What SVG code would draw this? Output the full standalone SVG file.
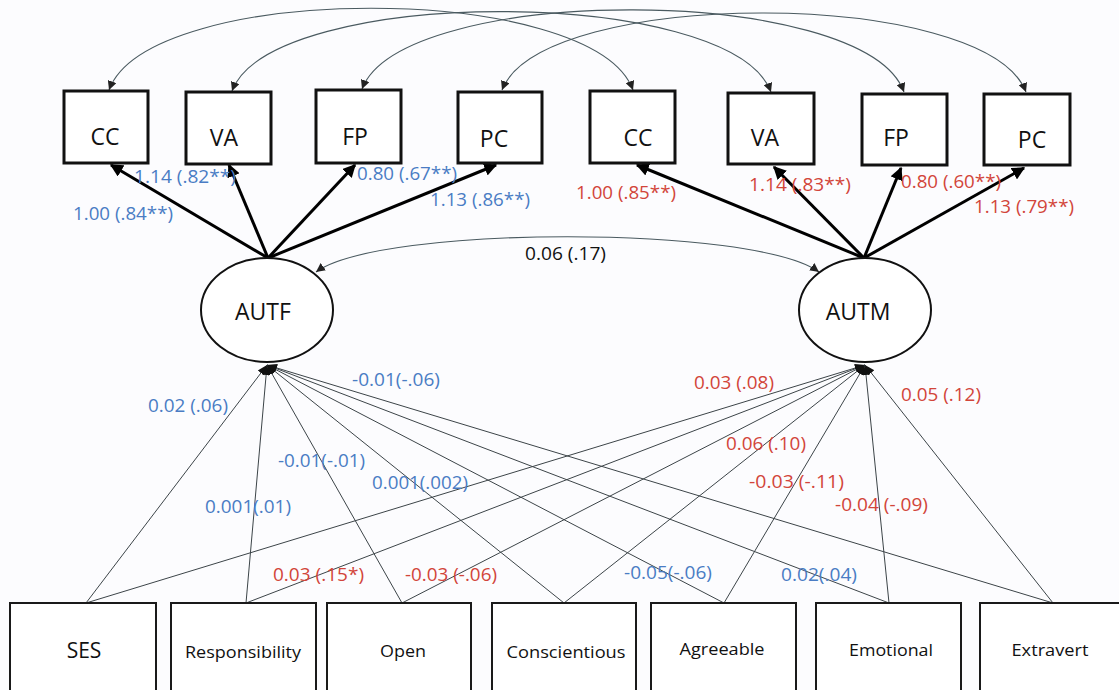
<svg xmlns="http://www.w3.org/2000/svg" width="1119" height="690" viewBox="0 0 1119 690">
<style>
.bg{fill:#fcfcfe}
.tb{fill:#fff;stroke:#111;stroke-width:3}
.bb{fill:#fff;stroke:#1a1a1a;stroke-width:2}
.el{fill:#fff;stroke:#111;stroke-width:2}
.cov{fill:none;stroke:#4a5a60;stroke-width:1.1}
.load{fill:none;stroke:#000;stroke-width:3}
.reg{fill:none;stroke:#3c4448;stroke-width:1}
text{font-family:"Open Sans","Liberation Sans",sans-serif}
.nl{font-size:23px;fill:#111;text-anchor:middle}
.bl{font-size:17px;fill:#111;text-anchor:middle}
.lab{font-size:18px}
.blue{fill:#4a7cc4}
.red{fill:#d2453a}
.blk{fill:#111}
</style>
<defs>
<marker id="ah" viewBox="0 0 10 10" refX="10" refY="5" markerWidth="9" markerHeight="9" markerUnits="userSpaceOnUse" orient="auto-start-reverse"><path d="M0,0 L10,5 L0,10 z" fill="#222"/></marker>
<marker id="ahL" viewBox="0 0 10 10" refX="9" refY="5" markerWidth="13" markerHeight="13" markerUnits="userSpaceOnUse" orient="auto"><path d="M0,0 L10,5 L0,10 z" fill="#000"/></marker>
<marker id="ahR" viewBox="0 0 10 10" refX="10" refY="5" markerWidth="10" markerHeight="10" markerUnits="userSpaceOnUse" orient="auto"><path d="M0,1 L10,5 L0,9 z" fill="#111"/></marker>
</defs>
<rect class="bg" x="0" y="0" width="1119" height="690"/>
<g id="connectors">
<path class="cov" d="M109,90 C149,-19 593,-19 633,90" marker-start="url(#ah)" marker-end="url(#ah)"/>
<path class="cov" d="M232,91 C272,-15 731,-15 771,92" marker-start="url(#ah)" marker-end="url(#ah)"/>
<path class="cov" d="M362,89 C402,-17 864,-17 904,92" marker-start="url(#ah)" marker-end="url(#ah)"/>
<path class="cov" d="M502,90 C542,-13 986,-13 1026,92" marker-start="url(#ah)" marker-end="url(#ah)"/>
<path class="cov" d="M316,272 C380,225 755,225 819,272" marker-start="url(#ah)" marker-end="url(#ah)"/>
<line class="load" x1="268" y1="258" x2="111" y2="165" marker-end="url(#ahL)"/>
<line class="load" x1="268" y1="258" x2="229" y2="165" marker-end="url(#ahL)"/>
<line class="load" x1="268" y1="258" x2="355" y2="165" marker-end="url(#ahL)"/>
<line class="load" x1="268" y1="258" x2="496" y2="165" marker-end="url(#ahL)"/>
<line class="load" x1="864" y1="258" x2="637" y2="165" marker-end="url(#ahL)"/>
<line class="load" x1="864" y1="258" x2="774" y2="167" marker-end="url(#ahL)"/>
<line class="load" x1="864" y1="258" x2="901" y2="168" marker-end="url(#ahL)"/>
<line class="load" x1="864" y1="258" x2="1024" y2="168" marker-end="url(#ahL)"/>
<line class="reg" x1="86" y1="603" x2="267" y2="365" marker-end="url(#ahR)"/>
<line class="reg" x1="246" y1="603" x2="267" y2="365" marker-end="url(#ahR)"/>
<line class="reg" x1="402" y1="603" x2="267" y2="365" marker-end="url(#ahR)"/>
<line class="reg" x1="564" y1="603" x2="267" y2="365" marker-end="url(#ahR)"/>
<line class="reg" x1="724" y1="603" x2="267" y2="365" marker-end="url(#ahR)"/>
<line class="reg" x1="889" y1="603" x2="267" y2="365" marker-end="url(#ahR)"/>
<line class="reg" x1="1053" y1="603" x2="267" y2="365" marker-end="url(#ahR)"/>
<line class="reg" x1="86" y1="603" x2="865" y2="365" marker-end="url(#ahR)"/>
<line class="reg" x1="246" y1="603" x2="865" y2="365" marker-end="url(#ahR)"/>
<line class="reg" x1="402" y1="603" x2="865" y2="365" marker-end="url(#ahR)"/>
<line class="reg" x1="564" y1="603" x2="865" y2="365" marker-end="url(#ahR)"/>
<line class="reg" x1="724" y1="603" x2="865" y2="365" marker-end="url(#ahR)"/>
<line class="reg" x1="889" y1="603" x2="865" y2="365" marker-end="url(#ahR)"/>
<line class="reg" x1="1053" y1="603" x2="865" y2="365" marker-end="url(#ahR)"/>
</g>
<g id="CC1"><rect class="tb" x="64" y="91" width="84" height="72"/><text class="nl" x="105" y="145">CC</text></g>
<g id="VA1"><rect class="tb" x="186" y="92" width="85" height="72"/><text class="nl" x="224" y="146">VA</text></g>
<g id="FP1"><rect class="tb" x="316" y="90" width="85" height="73"/><text class="nl" x="355" y="145">FP</text></g>
<g id="PC1"><rect class="tb" x="458" y="92" width="84" height="71"/><text class="nl" x="494" y="147">PC</text></g>
<g id="CC2"><rect class="tb" x="590" y="91" width="85" height="72"/><text class="nl" x="638" y="146">CC</text></g>
<g id="VA2"><rect class="tb" x="728" y="93" width="86" height="71"/><text class="nl" x="765" y="146">VA</text></g>
<g id="FP2"><rect class="tb" x="862" y="94" width="85" height="71"/><text class="nl" x="896" y="146">FP</text></g>
<g id="PC2"><rect class="tb" x="984" y="94" width="86" height="71"/><text class="nl" x="1032" y="148">PC</text></g>
<g id="AUTF"><ellipse class="el" cx="267" cy="310" rx="66" ry="52"/><text class="nl" x="263" y="320">AUTF</text></g>
<g id="AUTM"><ellipse class="el" cx="865" cy="310" rx="66" ry="52"/><text class="nl" x="858" y="320">AUTM</text></g>
<g id="SES"><rect class="bb" x="10" y="603" width="146" height="95"/><text class="bl" x="84" y="658" style="font-size:21px">SES</text></g>
<g id="Responsibility"><rect class="bb" x="171" y="603" width="145" height="95"/><text class="bl" x="243" y="658" textLength="116" lengthAdjust="spacingAndGlyphs">Responsibility</text></g>
<g id="Open"><rect class="bb" x="327" y="603" width="144" height="95"/><text class="bl" x="403" y="657" textLength="46" lengthAdjust="spacingAndGlyphs">Open</text></g>
<g id="Conscientious"><rect class="bb" x="492" y="603" width="144" height="95"/><text class="bl" x="566" y="658" textLength="119" lengthAdjust="spacingAndGlyphs">Conscientious</text></g>
<g id="Agreeable"><rect class="bb" x="651" y="603" width="145" height="95"/><text class="bl" x="722" y="655" textLength="85" lengthAdjust="spacingAndGlyphs">Agreeable</text></g>
<g id="Emotional"><rect class="bb" x="816" y="603" width="145" height="95"/><text class="bl" x="891" y="656" textLength="84" lengthAdjust="spacingAndGlyphs">Emotional</text></g>
<g id="Extravert"><rect class="bb" x="980" y="603" width="150" height="95"/><text class="bl" x="1050" y="656" textLength="77" lengthAdjust="spacingAndGlyphs">Extravert</text></g>
<g id="labels" class="lab">
<text class="blue" x="73" y="220" textLength="100" lengthAdjust="spacingAndGlyphs">1.00 (.84**)</text>
<text class="blue" x="134" y="183" textLength="102" lengthAdjust="spacingAndGlyphs">1.14 (.82**)</text>
<text class="blue" x="357" y="180" textLength="100" lengthAdjust="spacingAndGlyphs">0.80 (.67**)</text>
<text class="blue" x="430" y="206" textLength="100" lengthAdjust="spacingAndGlyphs">1.13 (.86**)</text>
<text class="blue" x="148" y="412" textLength="80" lengthAdjust="spacingAndGlyphs">0.02 (.06)</text>
<text class="blue" x="352" y="386" textLength="88" lengthAdjust="spacingAndGlyphs">-0.01(-.06)</text>
<text class="blue" x="278" y="467" textLength="87" lengthAdjust="spacingAndGlyphs">-0.01(-.01)</text>
<text class="blue" x="372" y="489" textLength="96" lengthAdjust="spacingAndGlyphs">0.001(.002)</text>
<text class="blue" x="205" y="513" textLength="86" lengthAdjust="spacingAndGlyphs">0.001(.01)</text>
<text class="blue" x="624" y="579" textLength="88" lengthAdjust="spacingAndGlyphs">-0.05(-.06)</text>
<text class="blue" x="781" y="581" textLength="76" lengthAdjust="spacingAndGlyphs">0.02(.04)</text>
<text class="red" x="576" y="199" textLength="100" lengthAdjust="spacingAndGlyphs">1.00 (.85**)</text>
<text class="red" x="749" y="191" textLength="102" lengthAdjust="spacingAndGlyphs">1.14 (.83**)</text>
<text class="red" x="901" y="188" textLength="100" lengthAdjust="spacingAndGlyphs">0.80 (.60**)</text>
<text class="red" x="974" y="213" textLength="100" lengthAdjust="spacingAndGlyphs">1.13 (.79**)</text>
<text class="red" x="694" y="389" textLength="80" lengthAdjust="spacingAndGlyphs">0.03 (.08)</text>
<text class="red" x="901" y="401" textLength="80" lengthAdjust="spacingAndGlyphs">0.05 (.12)</text>
<text class="red" x="726" y="450" textLength="80" lengthAdjust="spacingAndGlyphs">0.06 (.10)</text>
<text class="red" x="749" y="488" textLength="95" lengthAdjust="spacingAndGlyphs">-0.03 (-.11)</text>
<text class="red" x="835" y="511" textLength="93" lengthAdjust="spacingAndGlyphs">-0.04 (-.09)</text>
<text class="red" x="273" y="581" textLength="91" lengthAdjust="spacingAndGlyphs">0.03 (.15*)</text>
<text class="red" x="405" y="581" textLength="92" lengthAdjust="spacingAndGlyphs">-0.03 (-.06)</text>
<text class="blk" x="525" y="260" textLength="81" lengthAdjust="spacingAndGlyphs">0.06 (.17)</text>
</g>
</svg>
